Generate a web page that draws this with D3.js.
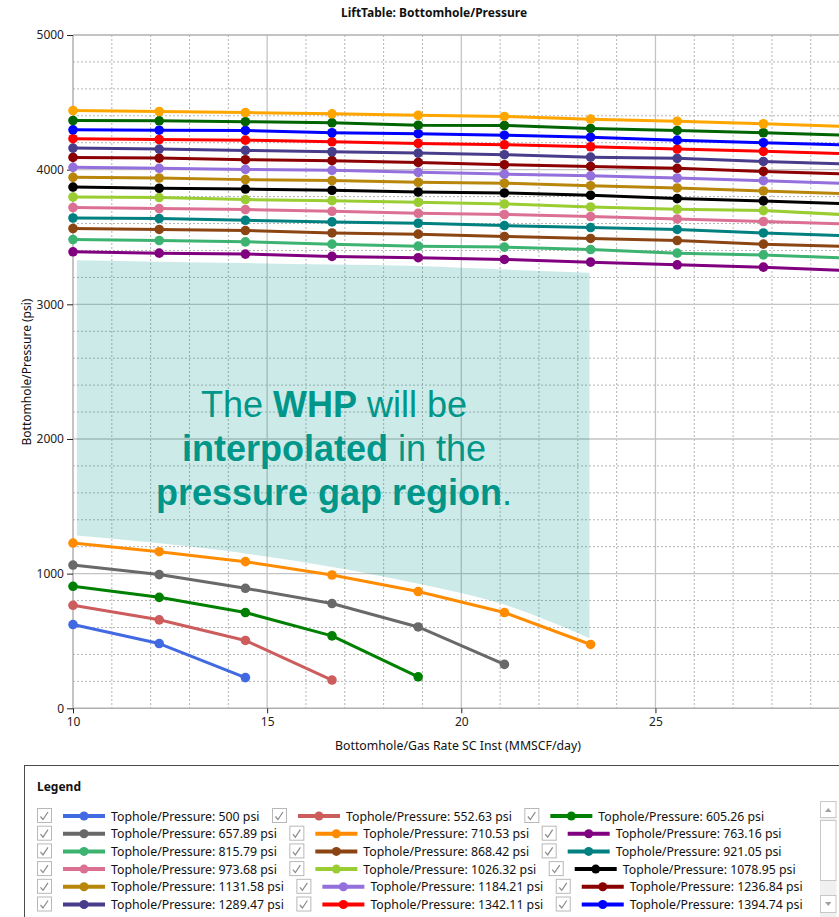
<!DOCTYPE html>
<html>
<head>
<meta charset="utf-8">
<script src="https://cdn.jsdelivr.net/npm/d3@7"></script>
<style>
  body { margin: 0; background: #fff; }
  svg { display: block; font-family: "Noto Sans", sans-serif; }
</style>
</head>
<body>
<div id="chart"></div>
<script>
// gas rate points (MMSCF/day)
const gasRates = [10, 12.22, 14.44, 16.67, 18.89, 21.11, 23.33, 25.56, 27.78, 30];

// tophole pressure of each curve (psi) and its colour
const topholePressures = ["500", "552.63", "605.26", "657.89", "710.53", "763.16", "815.79", "868.42",
  "921.05", "973.68", "1026.32", "1078.95", "1131.58", "1184.21", "1236.84", "1289.47",
  "1342.11", "1394.74", "1447.37", "1500"];
const seriesColors = ["#4169e1", "#cd5c5c", "#008000", "#696969", "#ff8c00", "#800080", "#3cb371", "#8b4513",
  "#008080", "#db7093", "#9acd32", "#000000", "#b8860b", "#9370db", "#8b0000", "#483d8b",
  "#ff0000", "#0000ff", "#006400", "#ffa500"];

// bottomhole pressure (psi) along gasRates
const bhp500 = [622, 481, 228];
const bhp552 = [765, 657, 504, 210];
const bhp605 = [906, 824, 711, 538, 234];
const bhp658 = [1064, 993, 891, 778, 604, 326];
const bhp711 = [1227, 1163, 1089, 990, 867, 711, 474];
const bhp763 = [3390, 3380, 3373, 3356, 3346, 3333, 3313, 3293, 3276, 3249];
const bhp816 = [3481, 3474, 3464, 3447, 3432, 3425, 3407, 3380, 3367, 3342];
const bhp868 = [3563, 3556, 3548, 3530, 3521, 3504, 3489, 3474, 3447, 3430];
const bhp921 = [3641, 3637, 3624, 3612, 3602, 3585, 3570, 3556, 3530, 3508];
const bhp974 = [3719, 3711, 3704, 3691, 3676, 3667, 3652, 3634, 3615, 3595];
const bhp1026 = [3797, 3793, 3778, 3770, 3758, 3745, 3723, 3706, 3696, 3664];
const bhp1079 = [3871, 3862, 3856, 3847, 3834, 3827, 3810, 3785, 3768, 3746];
const bhp1132 = [3943, 3938, 3926, 3919, 3906, 3899, 3881, 3864, 3842, 3820];
const bhp1184 = [4017, 4010, 4002, 3995, 3980, 3967, 3954, 3938, 3918, 3897];
const bhp1237 = [4091, 4086, 4074, 4067, 4054, 4037, 4024, 4010, 3987, 3968];
const bhp1289 = [4160, 4153, 4143, 4133, 4123, 4111, 4093, 4084, 4061, 4042];
const bhp1342 = [4230, 4224, 4219, 4207, 4195, 4185, 4170, 4153, 4136, 4117];
const bhp1395 = [4296, 4293, 4291, 4274, 4267, 4256, 4241, 4219, 4200, 4183];
const bhp1447 = [4365, 4363, 4356, 4348, 4330, 4328, 4306, 4291, 4274, 4256];
const bhp1500 = [4439, 4432, 4424, 4415, 4404, 4395, 4375, 4360, 4341, 4320];

// shaded "pressure gap" region
const gapRates = [10.1, 12.22, 14.44, 16.67, 18.89, 21.11, 23.3];
const gapTop = [3328, 3317, 3306, 3295, 3284, 3258, 3234];
const gapBottom = [1284, 1225, 1150, 1050, 925, 770, 521];

const xMajorTicks = [10, 15, 20, 25, 30];
const yMajorTicks = [0, 1000, 2000, 3000, 4000, 5000];

const seriesValues = [bhp500, bhp552, bhp605, bhp658, bhp711, bhp763, bhp816, bhp868, bhp921, bhp974,
  bhp1026, bhp1079, bhp1132, bhp1184, bhp1237, bhp1289, bhp1342, bhp1395, bhp1447, bhp1500];

const series = seriesValues.map((vals, i) => ({
  name: "Tophole/Pressure: " + topholePressures[i] + " psi",
  color: seriesColors[i],
  points: vals.map((v, j) => ({ rate: gasRates[j], bhp: v }))
}));

const width = 839, height = 917;
const plotLeft = 73, plotTop = 35, plotBottom = 708.3;

const svg = d3.select("#chart").append("svg")
  .attr("width", width)
  .attr("height", height);

const x = d3.scaleLinear().domain([10, 31]).range([plotLeft, plotLeft + 21 * 38.83]);
const y = d3.scaleLinear().domain([0, 5000]).range([plotBottom, plotTop]);

// grid - minor dotted
svg.append("g")
  .selectAll("line")
  .data(d3.range(11, 32).filter(v => v % 5 !== 0))
  .join("line")
  .attr("x1", d => x(d)).attr("x2", d => x(d))
  .attr("y1", plotTop).attr("y2", plotBottom)
  .attr("stroke", "#b4b4b4").attr("stroke-dasharray", "2,2");

svg.append("g")
  .selectAll("line")
  .data(d3.range(200, 5000, 200).filter(v => v % 1000 !== 0))
  .join("line")
  .attr("x1", plotLeft).attr("x2", width)
  .attr("y1", d => y(d)).attr("y2", d => y(d))
  .attr("stroke", "#b4b4b4").attr("stroke-dasharray", "2,2");

// grid - major solid
svg.append("g")
  .selectAll("line")
  .data(xMajorTicks.slice(1))
  .join("line")
  .attr("x1", d => x(d)).attr("x2", d => x(d))
  .attr("y1", plotTop).attr("y2", plotBottom)
  .attr("stroke", "#c4c4c4").attr("stroke-width", 1.3);

svg.append("g")
  .selectAll("line")
  .data(yMajorTicks.slice(1, -1))
  .join("line")
  .attr("x1", plotLeft).attr("x2", width)
  .attr("y1", d => y(d)).attr("y2", d => y(d))
  .attr("stroke", "#c4c4c4").attr("stroke-width", 1.3);

// plot frame
svg.append("line")
  .attr("x1", plotLeft).attr("x2", width).attr("y1", plotTop).attr("y2", plotTop)
  .attr("stroke", "#b0b0b0").attr("stroke-width", 1.3);
svg.append("line")
  .attr("x1", plotLeft).attr("x2", width).attr("y1", plotBottom).attr("y2", plotBottom)
  .attr("stroke", "#b0b0b0").attr("stroke-width", 1.5);
svg.append("line")
  .attr("x1", plotLeft).attr("x2", plotLeft).attr("y1", plotTop).attr("y2", plotBottom)
  .attr("stroke", "#b0b0b0").attr("stroke-width", 1.5);

// shaded gap
const gapArea = d3.area()
  .x((d, i) => x(gapRates[i]))
  .y0((d, i) => y(gapBottom[i]))
  .y1((d, i) => y(gapTop[i]))
  .curve(d3.curveMonotoneX);

svg.append("path")
  .datum(gapRates)
  .attr("d", gapArea)
  .attr("fill", "#009a8e")
  .attr("fill-opacity", 0.2);

// axes
const yAxis = svg.append("g")
  .attr("transform", `translate(${plotLeft},0)`)
  .call(d3.axisLeft(y).tickValues(yMajorTicks).tickSize(6).tickPadding(3).tickFormat(d3.format("d")));
yAxis.select(".domain").remove();
yAxis.selectAll("line").attr("stroke", "#222");
yAxis.selectAll("text").style("font-size", "12px").style("fill", "#222")
  .style("font-family", "'Noto Sans', sans-serif");

const xAxis = svg.append("g")
  .attr("transform", `translate(0,${plotBottom})`)
  .call(d3.axisBottom(x).tickValues(xMajorTicks).tickSize(5).tickPadding(4).tickFormat(d3.format("d")));
xAxis.select(".domain").remove();
xAxis.selectAll("line").attr("stroke", "#222");
xAxis.selectAll("text").style("font-size", "12px").style("fill", "#222")
  .style("font-family", "'Noto Sans', sans-serif");

// curves
const line = d3.line()
  .x(d => x(d.rate))
  .y(d => y(d.bhp));

const curves = svg.append("g")
  .selectAll("g")
  .data(series)
  .join("g");

curves.append("path")
  .attr("d", d => line(d.points))
  .attr("fill", "none")
  .attr("stroke", d => d.color)
  .attr("stroke-width", 3)
  .attr("stroke-linejoin", "round");

curves.selectAll("circle")
  .data(d => d.points.map(p => ({ ...p, color: d.color })))
  .join("circle")
  .attr("cx", d => x(d.rate))
  .attr("cy", d => y(d.bhp))
  .attr("r", 4.8)
  .attr("fill", d => d.color);

// annotation
const note = svg.append("text")
  .attr("text-anchor", "middle")
  .style("font-family", "'Liberation Sans', Arial, sans-serif")
  .style("font-size", "36px")
  .style("fill", "#00968a");

const noteLines = [
  [["The ", 400], ["WHP", 700], [" will be", 400]],
  [["interpolated", 700], [" in the", 400]],
  [["pressure gap region", 700], [".", 400]]
];
noteLines.forEach((parts, li) => {
  parts.forEach((p, pi) => {
    const t = note.append("tspan").text(p[0]).style("font-weight", p[1]);
    if (pi === 0) t.attr("x", 334).attr("y", 417 + li * 44);
  });
});

// titles
svg.append("text")
  .attr("x", 434).attr("y", 17)
  .attr("text-anchor", "middle")
  .style("font-size", "12px").style("font-weight", "700").style("fill", "#111")
  .text("LiftTable: Bottomhole/Pressure");

svg.append("text")
  .attr("x", 458).attr("y", 750)
  .attr("text-anchor", "middle")
  .style("font-size", "12.3px").style("fill", "#111")
  .text("Bottomhole/Gas Rate SC Inst (MMSCF/day)");

svg.append("text")
  .attr("transform", "rotate(-90)")
  .attr("x", -372).attr("y", 30.5)
  .attr("text-anchor", "middle")
  .style("font-size", "12px").style("fill", "#111")
  .text("Bottomhole/Pressure (psi)");

// legend (only the rows visible in the scroll view)
const legend = svg.append("g");
legend.append("rect")
  .attr("x", 24.5).attr("y", 765.5)
  .attr("width", 900).attr("height", 300)
  .attr("fill", "none").attr("stroke", "#4a4a4a");

legend.append("text")
  .attr("x", 37).attr("y", 791)
  .style("font-size", "12px").style("font-weight", "700").style("fill", "#111")
  .text("Legend");

const visibleRows = 6;
const rowY = 816, rowStep = 17.7;
let curX = 37;
series.forEach((s, i) => {
  const col = i % 3, row = Math.floor(i / 3);
  if (row >= visibleRows) return;
  if (col === 0) curX = 37;
  const cy = rowY + row * rowStep;
  const item = legend.append("g").attr("transform", `translate(${curX},${cy})`);

  item.append("rect")
    .attr("x", 0.5).attr("y", -7.5).attr("width", 14).attr("height", 14)
    .attr("fill", "#fff").attr("stroke", "#b8b8b8");
  item.append("path")
    .attr("d", "M3.5,0.5 L6,3.5 L11,-4")
    .attr("fill", "none").attr("stroke", "#8a8a8a").attr("stroke-width", 1.2);

  item.append("line")
    .attr("x1", 26).attr("x2", 68).attr("y1", 0).attr("y2", 0)
    .attr("stroke", s.color).attr("stroke-width", 4);
  item.append("circle")
    .attr("cx", 47).attr("cy", 0).attr("r", 4.5).attr("fill", s.color);

  const label = item.append("text")
    .attr("x", 74).attr("y", 4.5)
    .style("font-size", "12.3px").style("fill", "#111")
    .text(s.name);

  curX += 74 + label.node().getComputedTextLength() + 12.5;
});

// scrollbar
const sb = svg.append("g").attr("transform", "translate(820,801)");
sb.append("rect").attr("width", 16.5).attr("height", 116).attr("fill", "#f0f0f0");
sb.append("rect").attr("x", 0.5).attr("y", 0.5).attr("width", 15.5).attr("height", 16)
  .attr("fill", "#fff").attr("stroke", "#c8c8c8");
sb.append("path").attr("d", "M5,11 L8.25,7 L11.5,11 Z").attr("fill", "#a0a0a0");
sb.append("rect").attr("x", 0.5).attr("y", 19.5).attr("width", 15.5).attr("height", 60)
  .attr("fill", "#fff").attr("stroke", "#c8c8c8");
sb.append("rect").attr("x", 0.5).attr("y", 94.5).attr("width", 15.5).attr("height", 17)
  .attr("fill", "#fff").attr("stroke", "#c8c8c8");
sb.append("path").attr("d", "M5,101 L8.25,105 L11.5,101 Z").attr("fill", "#a0a0a0");
</script>
</body>
</html>
